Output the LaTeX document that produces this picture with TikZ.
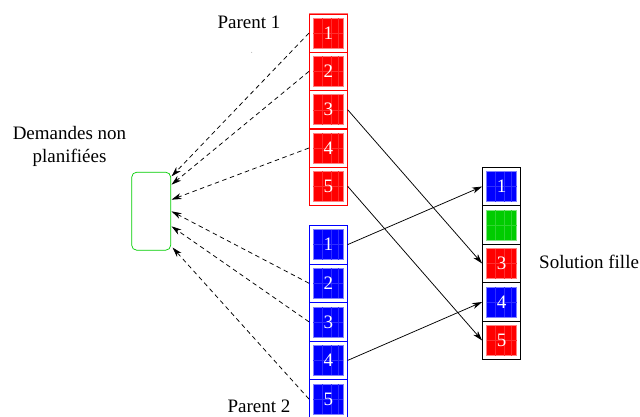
\documentclass[tikz,border=0pt]{standalone}
\usepackage{fontspec}
\setmainfont{Liberation Serif}
\newfontfamily\timesfam{Liberation Serif}
\usetikzlibrary{arrows.meta,calc}
\definecolor{cred}{RGB}{255,0,0}
\definecolor{cblue}{RGB}{0,0,255}
\definecolor{cgreen}{RGB}{0,204,0}
\begin{document}
\begin{tikzpicture}[x=1pt,y=-1pt,
  every node/.style={font=\timesfam\fontsize{19}{22}\selectfont},
  cellbox/.style={rectangle, draw=#1, line width=0.7pt, minimum width=38pt,
    minimum height=38.5pt, inner sep=0pt, text=white},
  sq/.style={path picture={
    \fill[#1] ([shift={(4,4.25)}]path picture bounding box.north west) rectangle
      ([shift={(-4,-4.25)}]path picture bounding box.south east);
    \draw[#1!50!white, line width=0.5pt] ([shift={(4,4.25)}]path picture bounding box.north west) rectangle
      ([shift={(-4,-4.25)}]path picture bounding box.south east);
    \draw[#1!82!white, line width=0.35pt]
      ([shift={(13,4.25)}]path picture bounding box.north west) -- ++(0,30)
      ([shift={(21.4,4.25)}]path picture bounding box.north west) -- ++(0,30)
      ([shift={(29,4.25)}]path picture bounding box.north west) -- ++(0,30)
      ([shift={(4,19.25)}]path picture bounding box.north west) -- ++(30,0);
  }},
  dasharrow/.style={dash pattern=on 4.5pt off 3.5pt, line width=0.75pt, -{Stealth[length=10pt,width=6pt,inset=3pt]}},
  solarrow/.style={line width=0.75pt, -{Stealth[length=10pt,width=6pt,inset=3pt]}},
  lbl/.style={text=black, inner sep=0pt}
]
\useasboundingbox (0,0) rectangle (640,416);

% Parent 1 column
\draw[red!55, line width=1.2pt] (309.3,13.9) rectangle (347.3,205.4);
\node[cellbox=cred, sq=cred] (a1) at (328.3,33.1) {1};
\node[cellbox=cred, sq=cred] (a2) at (328.3,71.4) {2};
\node[cellbox=cred, sq=cred] (a3) at (328.3,109.7) {3};
\node[cellbox=cred, sq=cred] (a4) at (328.3,148.0) {4};
\node[cellbox=cred, sq=cred] (a5) at (328.3,186.3) {5};

% Parent 2 column
\draw[cblue!55, line width=1.2pt] (309.3,225.3) rectangle (347.3,425);
\node[cellbox=cblue, sq=cblue] (b1) at (328.3,244.6) {1};
\node[cellbox=cblue, sq=cblue] (b2) at (328.3,283.2) {2};
\node[cellbox=cblue, sq=cblue] (b3) at (328.3,321.8) {3};
\node[cellbox=cblue, sq=cblue] (b4) at (328.3,360.4) {4};
\node[cellbox=cblue, sq=cblue] (b5) at (328.3,399.0) {5};

% Solution column
\node[cellbox=black, sq=cblue] (s1) at (501.5,186.5) {1};
\node[cellbox=black, sq=cgreen] (s2) at (501.5,225.0) {};
\node[cellbox=black, sq=cred] (s3) at (501.5,263.5) {3};
\node[cellbox=black, sq=cblue] (s4) at (501.5,302.0) {4};
\node[cellbox=black, sq=cred] (s5) at (501.5,340.5) {5};

% Labels
\node[lbl, anchor=base] (p1) at (249,28) {Parent 1};
\node[lbl, anchor=base] (p2) at (259,412) {Parent 2};
\node[lbl, anchor=base west] (sf) at (539,268) {Solution fille};
\node[lbl, align=center, anchor=base] (dn) at (69.5,162.7) {Demandes non\\[1pt]planifiées};

% Unplanned demands box
\node[draw=cgreen, line width=0.7pt, rounded corners=5pt, minimum width=39pt,
  minimum height=78pt, inner sep=0pt] (dem) at (151.2,211.2) {};
\coordinate (t1) at ($(dem.north east)+(0.5,4.5)$);
\coordinate (t2) at ($(dem.north east)+(0.5,12.8)$);
\coordinate (t3) at ($(dem.north east)+(0.5,27.8)$);
\coordinate (t4) at ($(dem.north east)+(0.5,39.5)$);
\coordinate (t5) at ($(dem.north east)+(0.5,54.5)$);
\coordinate (t6) at ($(dem.south east)+(1.5,-3)$);

% stray dot
\fill[gray!70] (251.7,52.3) circle (0.5pt);

% Dashed arrows
\draw[dasharrow] (a1.west) -- (t1);
\draw[dasharrow] (a2.west) -- (t2);
\draw[dasharrow] (a4.west) -- (t3);
\draw[dasharrow] (b2.west) -- (t4);
\draw[dasharrow] (b3.west) -- (t5);
\draw[dasharrow] (b5.west) -- (t6);

% Solid arrows
\draw[solarrow] (a3.east) -- (s3.west);
\draw[solarrow] (a5.east) -- (s5.west);
\draw[solarrow] (b1.east) -- (s1.west);
\draw[solarrow] (b4.east) -- (s4.west);
\end{tikzpicture}
\end{document}
